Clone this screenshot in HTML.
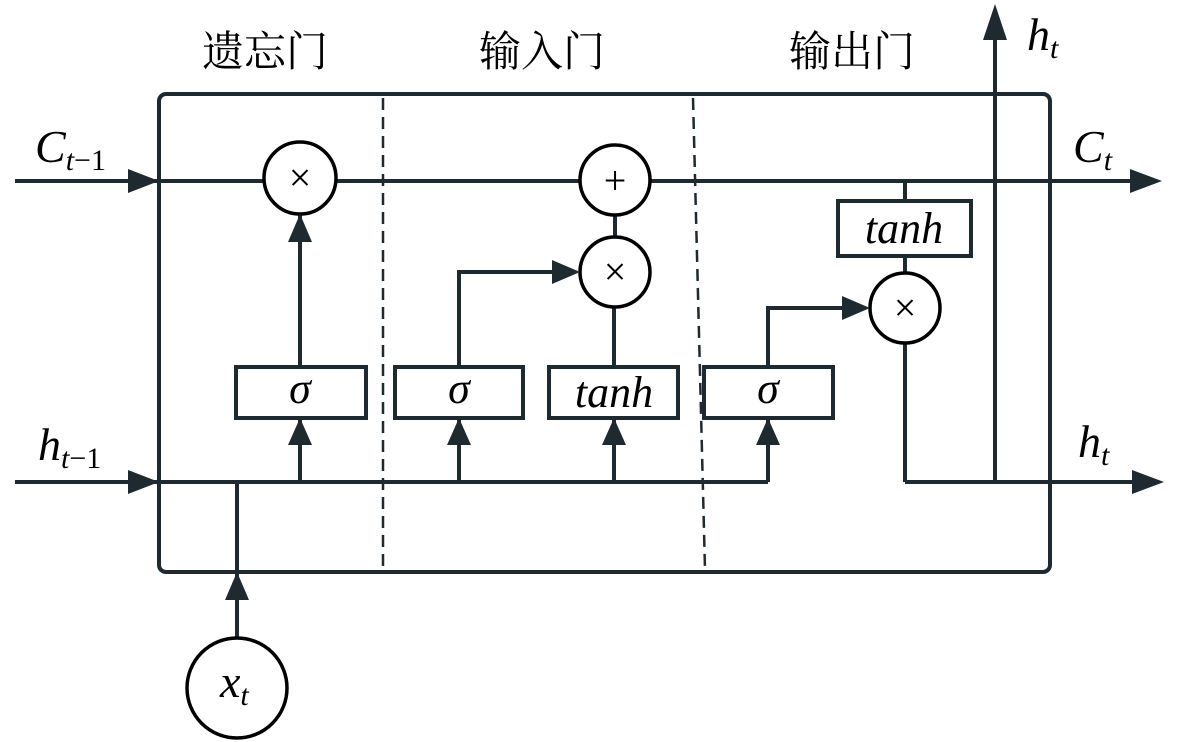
<!DOCTYPE html>
<html><head><meta charset="utf-8"><style>
html,body{margin:0;padding:0;background:#fff;}
svg{display:block;}
.t{font-family:"Liberation Serif",serif;font-style:italic;fill:#000;}
.cn{font-family:"Liberation Serif","Noto Serif CJK SC",serif;fill:#000;font-size:42px;}
</style></head><body>
<svg width="1181" height="742" viewBox="0 0 1181 742" xmlns="http://www.w3.org/2000/svg">
<g stroke="#1e2a30" stroke-width="4" fill="none">
<rect x="159" y="94" width="891" height="478" rx="7"/>
<line x1="15" y1="181" x2="1140" y2="181"/>
<line x1="15" y1="482" x2="768" y2="482"/>
<line x1="905" y1="482" x2="1140" y2="482"/>
<line x1="383" y1="98" x2="383" y2="570" stroke-width="2.5" stroke-dasharray="12,7"/>
<line x1="693" y1="98" x2="705" y2="570" stroke-width="2.5" stroke-dasharray="12,7"/>
<line x1="300" y1="214" x2="300" y2="367"/>
<line x1="300" y1="418" x2="300" y2="482"/>
<line x1="459" y1="418" x2="459" y2="482"/>
<line x1="614" y1="418" x2="614" y2="482"/>
<line x1="768" y1="418" x2="768" y2="482"/>
<polyline points="459,367 459,272 565,272"/>
<line x1="614" y1="307" x2="614" y2="367"/>
<line x1="615" y1="215" x2="615" y2="237"/>
<polyline points="768,367 768,308 855,308"/>
<line x1="905" y1="181" x2="905" y2="201"/>
<line x1="905" y1="256" x2="905" y2="273"/>
<line x1="905" y1="343" x2="905" y2="482"/>
<line x1="995" y1="482" x2="995" y2="30"/>
<line x1="237" y1="482" x2="237" y2="638"/>
</g>
<g fill="#fff" stroke="#1e2a30" stroke-width="4">
<rect x="236" y="367" width="130" height="51"/>
<rect x="395" y="367" width="128" height="51"/>
<rect x="549" y="367" width="129" height="51"/>
<rect x="704" y="367" width="129" height="51"/>
<rect x="838" y="201" width="133" height="55"/>
</g>
<g fill="#fff" stroke="#000" stroke-width="3.5">
<circle cx="300" cy="178" r="36"/>
<circle cx="615" cy="180" r="35"/>
<circle cx="615" cy="272" r="35"/>
<circle cx="905" cy="308" r="35"/>
<circle cx="237" cy="688" r="50"/>
</g>
<g fill="#1e2a30">
<polygon points="159,181 128,169 128,193"/>
<polygon points="159,482 128,470 128,494"/>
<polygon points="1162,181 1130,169 1130,193"/>
<polygon points="1164,482 1132,470 1132,494"/>
<polygon points="995,4 983,40 1007,40"/>
<polygon points="300,214 288,242 312,242"/>
<polygon points="300,418 288,445 312,445"/>
<polygon points="459,418 447,445 471,445"/>
<polygon points="614,418 602,445 626,445"/>
<polygon points="768,418 756,445 780,445"/>
<polygon points="580,272 552,260 552,284"/>
<polygon points="870,308 842,296 842,320"/>
<polygon points="237,572 225,600 249,600"/>
</g>
<g font-family="Liberation Serif,serif" font-size="40" text-anchor="middle" fill="#000">
<text x="300" y="191">×</text>
<text x="615" y="194">+</text>
<text x="615" y="285">×</text>
<text x="905" y="321">×</text>
</g>
<g class="t" text-anchor="middle" font-size="44">
<text x="300" y="403">σ</text>
<text x="459" y="403">σ</text>
<text x="768" y="403">σ</text>
<text x="614" y="407">tanh</text>
<text x="904" y="243">tanh</text>
</g>
<text class="cn" x="265" y="66" text-anchor="middle">遗忘门</text>
<text class="cn" x="542" y="66" text-anchor="middle">输入门</text>
<text class="cn" x="852" y="66" text-anchor="middle">输出门</text>
<g class="t" font-size="46">
<text x="35" y="162">C<tspan font-size="30" dy="8">t</tspan><tspan font-style="normal" font-size="30">−1</tspan></text>
<text x="1073" y="162">C<tspan font-size="30" dy="8">t</tspan></text>
<text x="38" y="460">h<tspan font-size="30" dy="8">t</tspan><tspan font-style="normal" font-size="30">−1</tspan></text>
<text x="1078" y="457">h<tspan font-size="30" dy="8">t</tspan></text>
<text x="1027" y="50">h<tspan font-size="30" dy="8">t</tspan></text>
<text x="220" y="697">x<tspan font-size="30" dy="8">t</tspan></text>
</g>
</svg>
</body></html>
